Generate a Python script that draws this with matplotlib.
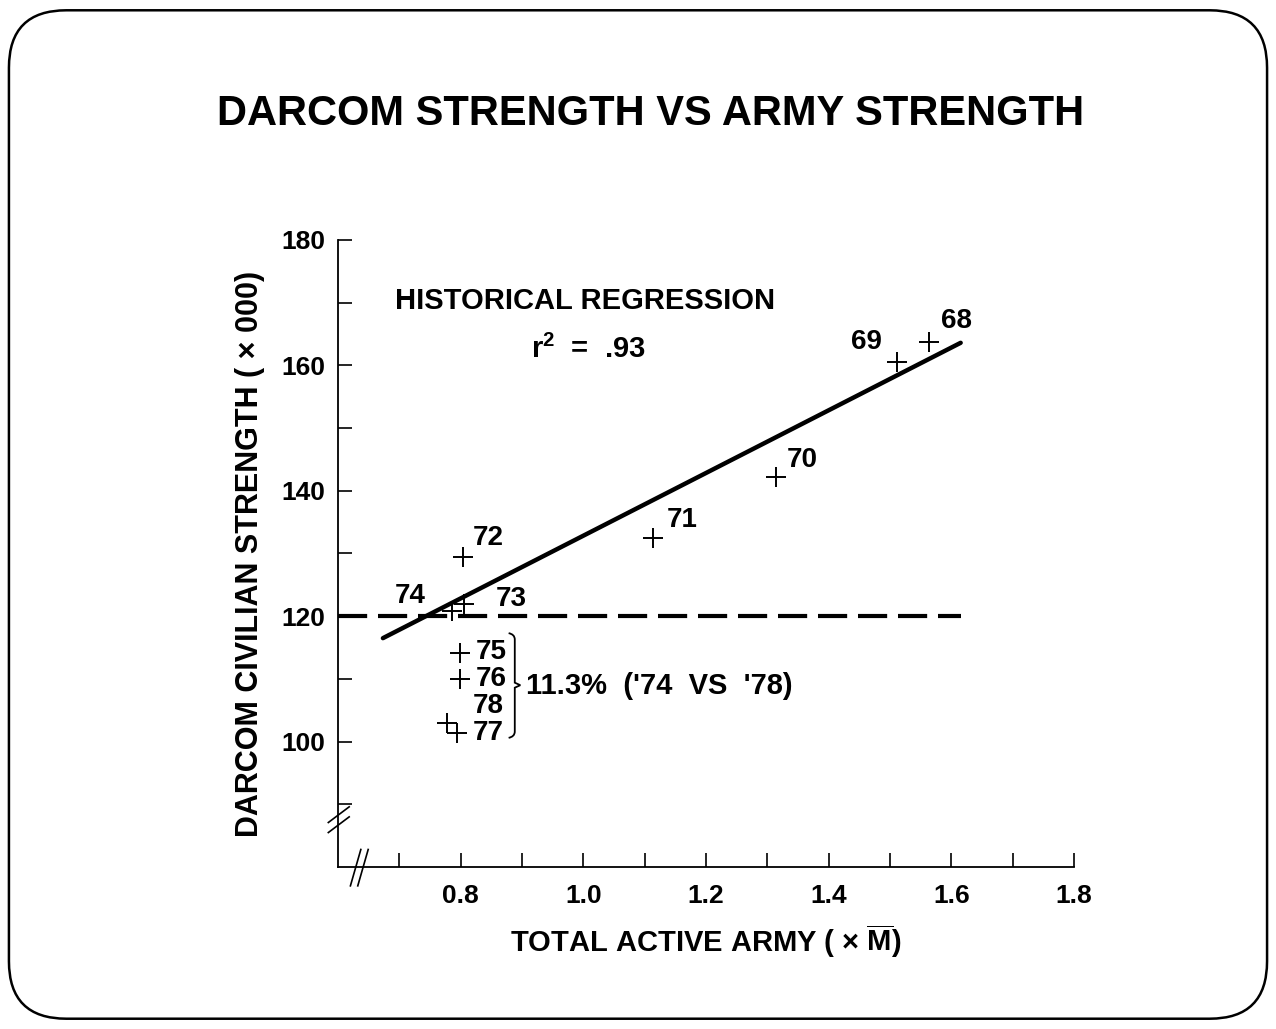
import matplotlib
matplotlib.use("Agg")
import matplotlib.pyplot as plt
from matplotlib.patches import FancyBboxPatch, PathPatch
from matplotlib.path import Path
from matplotlib.lines import Line2D

plt.rcParams['font.family'] = ['Liberation Sans', 'DejaVu Sans']
plt.rcParams['mathtext.fontset'] = 'custom'
plt.rcParams['mathtext.bf'] = 'Liberation Sans:bold'
plt.rcParams['mathtext.rm'] = 'Liberation Sans:bold'

# ---- data ----
years = ['68', '69', '70', '71', '72', '73', '74', '75', '76', '78', '77']
army = [1.564, 1.511, 1.314, 1.114, 0.803, 0.805, 0.785, 0.798, 0.798, 0.777, 0.793]
darcom = [163.7, 160.5, 142.2, 132.4, 129.5, 122.0, 120.8, 114.1, 110.0, 103.0, 101.4]
label_x = [1.608, 1.462, 1.356, 1.161, 0.844, 0.883, 0.717, 0.850, 0.850, 0.844, 0.844]
label_y = [167.1, 163.7, 144.9, 135.4, 132.4, 122.7, 123.3, 114.3, 110.0, 105.7, 101.3]
reg_x = [0.673, 1.615]
reg_y = [116.5, 163.6]
base_level = 120
base_x = [0.6, 1.615]
x_ticks = [0.8, 1.0, 1.2, 1.4, 1.6, 1.8]
y_ticks = [100, 120, 140, 160, 180]

fig = plt.figure(figsize=(12.76, 10.29), dpi=100)

# rounded frame
frame = FancyBboxPatch((0.007, 0.010), 0.986, 0.980,
                       boxstyle="round,pad=0,rounding_size=0.045",
                       transform=fig.transFigure, fill=False,
                       edgecolor='black', linewidth=1.8, mutation_aspect=1276/1029)
fig.patches.append(frame)

fig.text(0.510, 0.889, 'DARCOM STRENGTH VS ARMY STRENGTH', ha='center', va='center',
         fontsize=30, fontweight='bold')

ax = fig.add_axes([0.265, 0.1574, 0.5768, 0.6094])
ax.set_xlim(0.6, 1.8)
ax.set_ylim(80, 180)
for s in ['top', 'right']:
    ax.spines[s].set_visible(False)
for s in ['left', 'bottom']:
    ax.spines[s].set_linewidth(1.3)

ax.set_xticks(x_ticks)
ax.set_xticks([0.7, 0.9, 1.1, 1.3, 1.5, 1.7], minor=True)
ax.set_yticks(y_ticks)
ax.set_yticks([90, 110, 130, 150, 170], minor=True)
ax.set_xticklabels([f'{v:.1f}' for v in x_ticks], fontsize=19, fontweight='bold')
ax.set_yticklabels([str(v) for v in y_ticks], fontsize=19, fontweight='bold')
ax.tick_params(axis='both', which='both', direction='in', length=10, width=1.2)
ax.tick_params(axis='x', which='major', pad=12)
ax.tick_params(axis='y', which='major', pad=9)

ax.set_xlabel(r'TOTAL ACTIVE ARMY ( $\times$ $\overline{\mathbf{M}}$)', fontsize=21,
              fontweight='bold', labelpad=11)
ax.set_ylabel('DARCOM CIVILIAN STRENGTH ( × 000)', fontsize=22, fontweight='bold',
              labelpad=12)

# regression and base line
ax.plot(reg_x, reg_y, color='black', linewidth=3.2, solid_capstyle='round')
ax.plot(base_x, [base_level, base_level], color='black', linewidth=3.0,
        dashes=(7, 2.6), clip_on=False)

# points
ax.plot(army, darcom, linestyle='none', marker='+', markersize=14,
        markeredgewidth=1.4, color='black')
for yr, lx, ly in zip(years, label_x, label_y):
    ax.text(lx, ly, yr, ha='center', va='center', fontsize=20, fontweight='bold')

# annotations
ax.text(0.693, 170.3, 'HISTORICAL REGRESSION', ha='left', va='center',
        fontsize=21, fontweight='bold')
ax.text(0.915, 162.6, r'r$^{\mathbf{2}}$  =  .93', ha='left', va='center',
        fontsize=21, fontweight='bold')
ax.text(0.907, 108.9, "11.3%  ('74  VS  '78)", ha='left', va='center',
        fontsize=21, fontweight='bold')

# brace
bx0, bx1, bxt = 0.878, 0.888, 0.897
ytop, ymid, ybot = 117.3, 109.0, 100.6
verts = [(bx0, ytop), (bx1, ytop - 0.2), (bx1, ytop - 1.0),
         (bx1, ymid + 2.0), (bx1, ymid + 0.8), (bx1, ymid + 0.4),
         (bxt, ymid),
         (bx1, ymid - 0.4), (bx1, ymid - 0.8), (bx1, ymid - 2.0),
         (bx1, ybot + 1.0), (bx1, ybot + 0.2), (bx0, ybot)]
codes = [Path.MOVETO, Path.CURVE3, Path.CURVE3,
         Path.LINETO, Path.CURVE3, Path.CURVE3,
         Path.LINETO,
         Path.LINETO, Path.CURVE3, Path.CURVE3,
         Path.LINETO, Path.CURVE3, Path.CURVE3]
ax.add_patch(PathPatch(Path(verts, codes), fill=False, edgecolor='black', linewidth=1.3))

# axis break marks
for dx in (0.0, 0.012):
    ax.add_line(Line2D([0.620 + dx, 0.637 + dx], [77.0, 82.8], color='black',
                       linewidth=1.2, clip_on=False))
for dy in (0.0, 1.6):
    ax.add_line(Line2D([0.584, 0.618], [85.5 + dy, 88.0 + dy], color='black',
                       linewidth=1.2, clip_on=False))

fig.savefig('out.png', dpi=100)
